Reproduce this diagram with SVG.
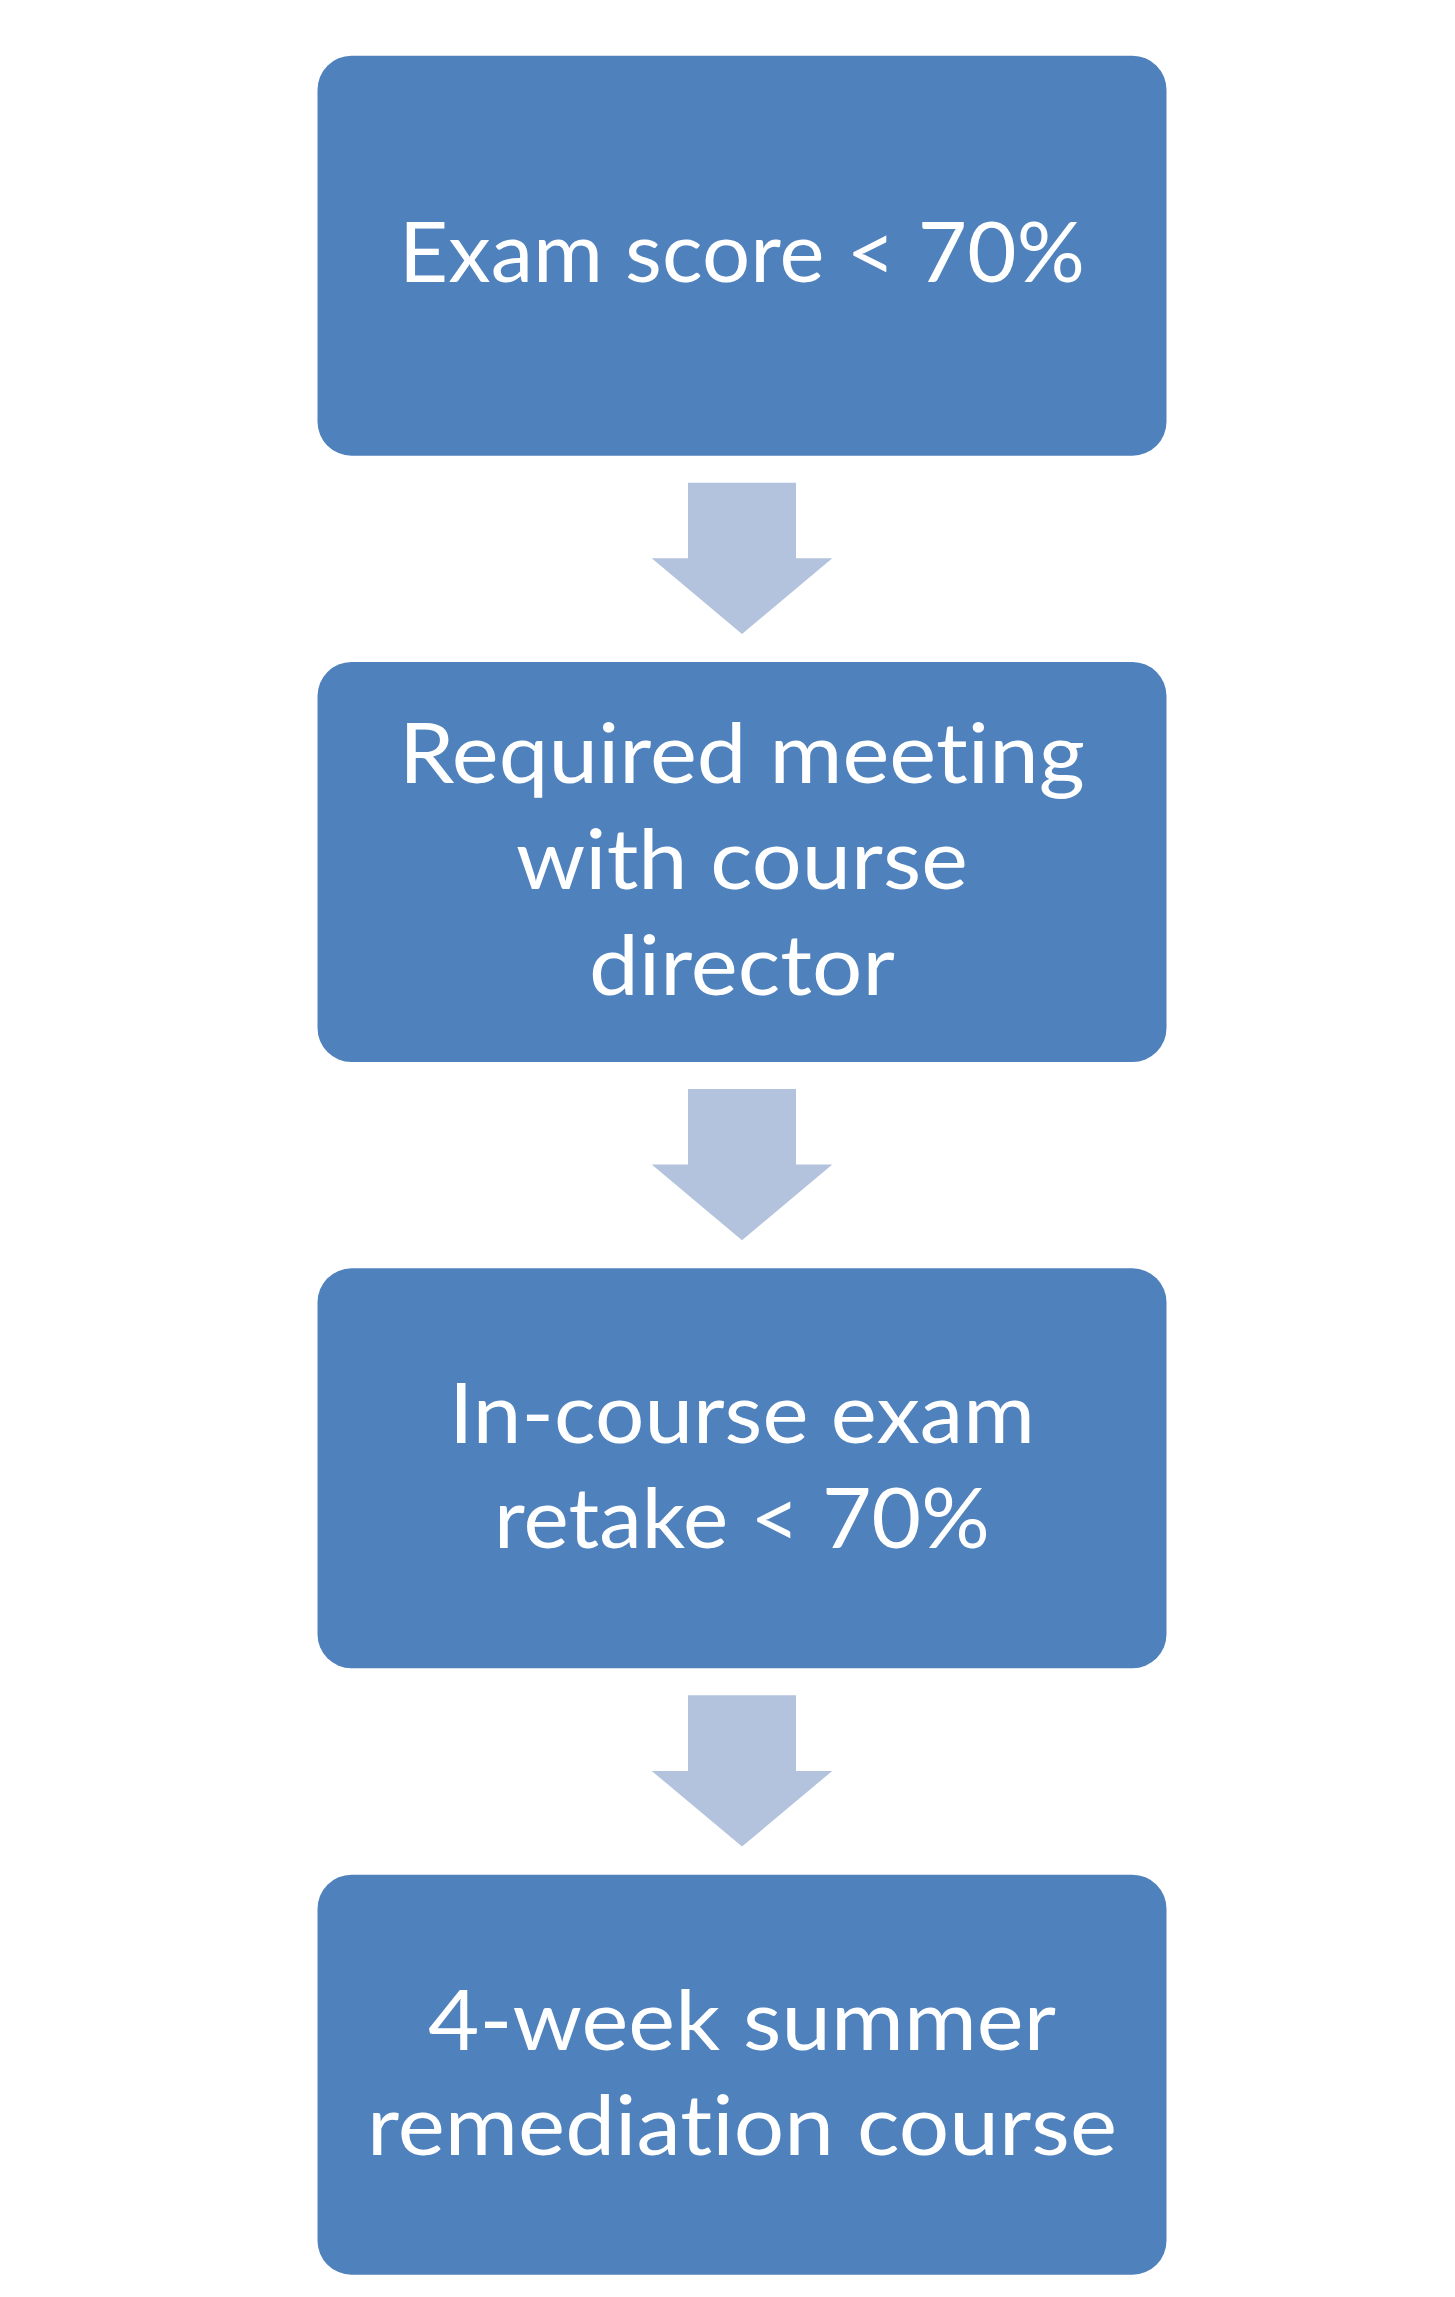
<svg xmlns="http://www.w3.org/2000/svg" width="1455" height="2297" viewBox="0 0 1455 2297">
<style>
.box{fill:#4F81BD;}
.arrow{fill:#B3C3DD;}
.lbl{font-family:Lato,"Open Sans","Liberation Sans",sans-serif;font-size:84px;fill:#FFFFFF;text-anchor:middle;font-variant-ligatures:none;font-feature-settings:"liga" 0,"clig" 0,"dlig" 0;letter-spacing:0.1px;}
</style>
<rect width="1455" height="2297" fill="#FFFFFF"/>
<g id="connectors">
<polygon class="arrow" points="688,482.7 796,482.7 796,558.3 832.3,558.3 742,634 651.7,558.3 688,558.3"/>
<polygon class="arrow" points="688,1089 796,1089 796,1164.6 832.3,1164.6 742,1240.3 651.7,1164.6 688,1164.6"/>
<polygon class="arrow" points="688,1695.3 796,1695.3 796,1770.9 832.3,1770.9 742,1846.6 651.7,1770.9 688,1770.9"/>
</g>
<g id="node1">
<rect class="box" x="317.5" y="55.7" width="849" height="400" rx="34" ry="34"/>
<text class="lbl" x="742" y="281.7" textLength="686" lengthAdjust="spacingAndGlyphs">Exam score &lt; 70%</text>
</g>
<g id="node2">
<rect class="box" x="317.5" y="662" width="849" height="400" rx="34" ry="34"/>
<text class="lbl" x="742" y="783.3" textLength="686" lengthAdjust="spacingAndGlyphs">Required meeting</text>
<text class="lbl" x="742" y="889.3" textLength="452" lengthAdjust="spacingAndGlyphs">with course</text>
<text class="lbl" x="742" y="995" textLength="306" lengthAdjust="spacingAndGlyphs">director</text>
</g>
<g id="node3">
<rect class="box" x="317.5" y="1268.3" width="849" height="400" rx="34" ry="34"/>
<text class="lbl" x="742" y="1442.7" textLength="586" lengthAdjust="spacingAndGlyphs">In-course exam</text>
<text class="lbl" x="742" y="1548.3" textLength="496" lengthAdjust="spacingAndGlyphs">retake &lt; 70%</text>
</g>
<g id="node4">
<rect class="box" x="317.5" y="1874.7" width="849" height="400" rx="34" ry="34"/>
<text class="lbl" x="742" y="2050" textLength="628" lengthAdjust="spacingAndGlyphs">4-week summer</text>
<text class="lbl" x="742" y="2155" textLength="750" lengthAdjust="spacingAndGlyphs">remediation course</text>
</g>
</svg>
